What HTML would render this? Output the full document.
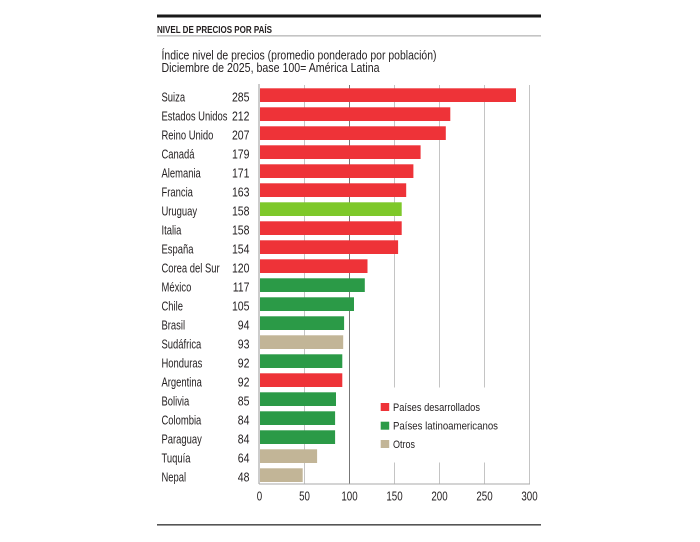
<!DOCTYPE html>
<html><head><meta charset="utf-8"><style>
html,body{margin:0;padding:0;background:#fff;}
svg{display:block;}
text{font-family:"Liberation Sans",sans-serif;fill:#231f20;}
</style></head><body>
<svg width="700" height="542" viewBox="0 0 700 542" xmlns="http://www.w3.org/2000/svg">
<rect x="0" y="0" width="700" height="542" fill="#fff"/>
<rect x="157" y="14.5" width="384" height="3" fill="#1a1a1a"/>
<text x="157" y="33" font-size="10.5" font-weight="bold" textLength="115" lengthAdjust="spacingAndGlyphs">NIVEL DE PRECIOS POR PAÍS</text>
<rect x="157" y="35.5" width="384" height="0.8" fill="#888"/>
<text x="161.5" y="59.5" font-size="13" textLength="275" lengthAdjust="spacingAndGlyphs">Índice nivel de precios (promedio ponderado por población)</text>
<text x="161.5" y="72" font-size="13" textLength="218" lengthAdjust="spacingAndGlyphs">Diciembre de 2025, base 100= América Latina</text>

<!-- gridlines -->
<g stroke="#c4c4c4" stroke-width="1">
<line x1="304.5" y1="85" x2="304.5" y2="484"/>
<line x1="394.5" y1="85" x2="394.5" y2="484"/>
<line x1="439.5" y1="85" x2="439.5" y2="484"/>
<line x1="484.5" y1="85" x2="484.5" y2="484"/>
<line x1="529.5" y1="85" x2="529.5" y2="484"/>
</g>
<line x1="349.5" y1="85" x2="349.5" y2="484" stroke="#777" stroke-width="1"/>
<line x1="259" y1="84" x2="259" y2="484" stroke="#999" stroke-width="1"/>
<line x1="259" y1="484" x2="530" y2="484" stroke="#aaa" stroke-width="1"/>

<!-- legend background -->
<rect x="362" y="387.5" width="148" height="75" fill="#fff"/>

<!-- bars -->
<g>
<rect x="260" y="88.3" width="256" height="13.7" fill="#ee3338"/>
<rect x="260" y="107.3" width="190.3" height="13.7" fill="#ee3338"/>
<rect x="260" y="126.3" width="185.8" height="13.7" fill="#ee3338"/>
<rect x="260" y="145.3" width="160.6" height="13.7" fill="#ee3338"/>
<rect x="260" y="164.3" width="153.4" height="13.7" fill="#ee3338"/>
<rect x="260" y="183.3" width="146.2" height="13.7" fill="#ee3338"/>
<rect x="260" y="202.3" width="141.7" height="13.7" fill="#7ec82a"/>
<rect x="260" y="221.3" width="141.7" height="13.7" fill="#ee3338"/>
<rect x="260" y="240.3" width="138.1" height="13.7" fill="#ee3338"/>
<rect x="260" y="259.3" width="107.5" height="13.7" fill="#ee3338"/>
<rect x="260" y="278.3" width="104.8" height="13.7" fill="#2b9a47"/>
<rect x="260" y="297.3" width="94" height="13.7" fill="#2b9a47"/>
<rect x="260" y="316.3" width="84.1" height="13.7" fill="#2b9a47"/>
<rect x="260" y="335.3" width="83.2" height="13.7" fill="#c2b597"/>
<rect x="260" y="354.3" width="82.3" height="13.7" fill="#2b9a47"/>
<rect x="260" y="373.3" width="82.3" height="13.7" fill="#ee3338"/>
<rect x="260" y="392.3" width="76" height="13.7" fill="#2b9a47"/>
<rect x="260" y="411.3" width="75.1" height="13.7" fill="#2b9a47"/>
<rect x="260" y="430.3" width="75.1" height="13.7" fill="#2b9a47"/>
<rect x="260" y="449.3" width="57.1" height="13.7" fill="#c2b597"/>
<rect x="260" y="468.3" width="42.7" height="13.7" fill="#c2b597"/>
</g>

<!-- country labels -->
<g font-size="13">
<text transform="translate(161.5,101.5) scale(0.725,1)">Suiza</text>
<text transform="translate(161.5,120.5) scale(0.725,1)">Estados Unidos</text>
<text transform="translate(161.5,139.5) scale(0.725,1)">Reino Unido</text>
<text transform="translate(161.5,158.5) scale(0.725,1)">Canadá</text>
<text transform="translate(161.5,177.5) scale(0.725,1)">Alemania</text>
<text transform="translate(161.5,196.5) scale(0.725,1)">Francia</text>
<text transform="translate(161.5,215.5) scale(0.725,1)">Uruguay</text>
<text transform="translate(161.5,234.5) scale(0.725,1)">Italia</text>
<text transform="translate(161.5,253.5) scale(0.725,1)">España</text>
<text transform="translate(161.5,272.5) scale(0.725,1)">Corea del Sur</text>
<text transform="translate(161.5,291.5) scale(0.725,1)">México</text>
<text transform="translate(161.5,310.5) scale(0.725,1)">Chile</text>
<text transform="translate(161.5,329.5) scale(0.725,1)">Brasil</text>
<text transform="translate(161.5,348.5) scale(0.725,1)">Sudáfrica</text>
<text transform="translate(161.5,367.5) scale(0.725,1)">Honduras</text>
<text transform="translate(161.5,386.5) scale(0.725,1)">Argentina</text>
<text transform="translate(161.5,405.5) scale(0.725,1)">Bolivia</text>
<text transform="translate(161.5,424.5) scale(0.725,1)">Colombia</text>
<text transform="translate(161.5,443.5) scale(0.725,1)">Paraguay</text>
<text transform="translate(161.5,462.5) scale(0.725,1)">Tuquía</text>
<text transform="translate(161.5,481.5) scale(0.725,1)">Nepal</text>
</g>

<!-- values -->
<g font-size="13" text-anchor="end">
<text transform="translate(249.5,101.5) scale(0.81,1)">285</text>
<text transform="translate(249.5,120.5) scale(0.81,1)">212</text>
<text transform="translate(249.5,139.5) scale(0.81,1)">207</text>
<text transform="translate(249.5,158.5) scale(0.81,1)">179</text>
<text transform="translate(249.5,177.5) scale(0.81,1)">171</text>
<text transform="translate(249.5,196.5) scale(0.81,1)">163</text>
<text transform="translate(249.5,215.5) scale(0.81,1)">158</text>
<text transform="translate(249.5,234.5) scale(0.81,1)">158</text>
<text transform="translate(249.5,253.5) scale(0.81,1)">154</text>
<text transform="translate(249.5,272.5) scale(0.81,1)">120</text>
<text transform="translate(249.5,291.5) scale(0.81,1)">117</text>
<text transform="translate(249.5,310.5) scale(0.81,1)">105</text>
<text transform="translate(249.5,329.5) scale(0.81,1)">94</text>
<text transform="translate(249.5,348.5) scale(0.81,1)">93</text>
<text transform="translate(249.5,367.5) scale(0.81,1)">92</text>
<text transform="translate(249.5,386.5) scale(0.81,1)">92</text>
<text transform="translate(249.5,405.5) scale(0.81,1)">85</text>
<text transform="translate(249.5,424.5) scale(0.81,1)">84</text>
<text transform="translate(249.5,443.5) scale(0.81,1)">84</text>
<text transform="translate(249.5,462.5) scale(0.81,1)">64</text>
<text transform="translate(249.5,481.5) scale(0.81,1)">48</text>
</g>

<!-- x tick labels -->
<g font-size="13" text-anchor="middle">
<text transform="translate(259.5,500.5) scale(0.75,1)">0</text>
<text transform="translate(304.5,500.5) scale(0.75,1)">50</text>
<text transform="translate(349.5,500.5) scale(0.75,1)">100</text>
<text transform="translate(394.5,500.5) scale(0.75,1)">150</text>
<text transform="translate(439.5,500.5) scale(0.75,1)">200</text>
<text transform="translate(484.5,500.5) scale(0.75,1)">250</text>
<text transform="translate(529.5,500.5) scale(0.75,1)">300</text>
</g>

<!-- legend -->
<rect x="380.7" y="403" width="8.5" height="8" fill="#ee3338"/>
<rect x="380.7" y="421.7" width="8.5" height="8" fill="#2b9a47"/>
<rect x="380.7" y="440" width="8.5" height="8" fill="#c2b597"/>
<text x="393" y="411" font-size="11" textLength="87" lengthAdjust="spacingAndGlyphs">Países desarrollados</text>
<text x="393" y="429.7" font-size="11" textLength="105" lengthAdjust="spacingAndGlyphs">Países latinoamericanos</text>
<text x="393" y="448" font-size="11" textLength="22" lengthAdjust="spacingAndGlyphs">Otros</text>

<rect x="157" y="524" width="384" height="1.6" fill="#555"/>
</svg>
</body></html>
